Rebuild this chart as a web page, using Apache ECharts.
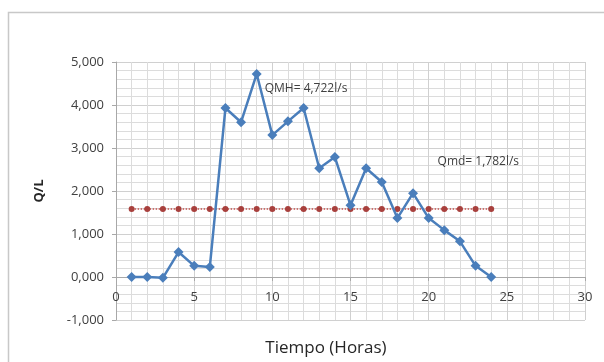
<!DOCTYPE html>
<html><head><meta charset="utf-8">
<script src="https://cdn.jsdelivr.net/npm/echarts@6/dist/echarts.min.js"></script>
<style>html,body{margin:0;padding:0;background:#fff}#c{width:604px;height:362px}</style>
</head><body><div id="c"></div>
<script>
const hours = [1,2,3,4,5,6,7,8,9,10,11,12,13,14,15,16,17,18,19,20,21,22,23,24];
const caudal = [0,0,-20,580,260,230,3930,3600,4722,3300,3620,3930,2530,2790,1670,2530,2210,1370,1950,1370,1090,830,260,0];
const qmdLine = [1580,1580,1580,1580,1580,1580,1580,1580,1580,1580,1580,1580,1580,1580,1580,1580,1580,1580,1580,1580,1580,1580,1580,1580];
const yTicks = [-1000,0,1000,2000,3000,4000,5000];
const xTicks = [0,5,10,15,20,25,30];
const peakLabel = 'QMH= 4,722l/s';
const meanLabel = 'Qmd= 1,782l/s';
const xName = 'Tiempo (Horas)';
const yName = 'Q/L';

const FONT = 'Open Sans';
const GRID = {left:116,right:19,top:62,bottom:42};
const plotH = 362 - GRID.top - GRID.bottom;
const yMin = yTicks[0], yMax = yTicks[yTicks.length-1];
const zeroOffset = -plotH * (0 - yMin) / (yMax - yMin);
const chart = echarts.init(document.getElementById('c'), null, {renderer:'canvas'});
const peakIdx = caudal.indexOf(Math.max(...caudal));
chart.setOption({
  animation:false,
  backgroundColor:'#fff',
  grid:GRID,
  graphic:[
    {type:'rect',shape:{x:8.5,y:12.5,width:700,height:400},style:{fill:'none',stroke:'#c8c8c8',lineWidth:1.5},z:-1},
    {type:'text',x:326,y:348,style:{text:xName,font:'17px "Open Sans"',fill:'#262626',textAlign:'center',textVerticalAlign:'middle'}}
  ],
  xAxis:{type:'value',min:xTicks[0],max:xTicks[xTicks.length-1],interval:5,
    offset:zeroOffset,
    axisLine:{onZero:false,lineStyle:{color:'#a8a8a8'}},
    axisTick:{show:true,length:4,lineStyle:{color:'#a8a8a8'}},
    axisLabel:{color:'#404040',fontFamily:FONT,fontSize:13,margin:14},
    splitLine:{show:true,lineStyle:{color:'#d0d0d0'}},
    minorTick:{show:false,splitNumber:5},
    minorSplitLine:{show:true,lineStyle:{color:'#dcdcdc'}}
  },
  yAxis:{type:'value',min:yMin,max:yMax,interval:1000,
    name:yName,nameLocation:'middle',nameGap:70,
    nameTextStyle:{color:'#262626',fontFamily:FONT,fontSize:13,fontWeight:'bold'},
    axisLine:{show:true,lineStyle:{color:'#a8a8a8'}},
    axisTick:{show:true,length:4,lineStyle:{color:'#a8a8a8'}},
    axisLabel:{color:'#404040',fontFamily:FONT,fontSize:13,margin:12,
      formatter:v=> v===0?'0,000':v.toLocaleString('en-US')},
    splitLine:{show:true,lineStyle:{color:'#d0d0d0'}},
    minorTick:{show:false,splitNumber:5},
    minorSplitLine:{show:true,lineStyle:{color:'#dcdcdc'}}
  },
  series:[
    {type:'line',data:hours.map((h,i)=>[h,qmdLine[i]]),
      symbol:'circle',symbolSize:6,
      lineStyle:{color:'#c0504d',width:1.5,type:'dotted'},
      itemStyle:{color:'#a8403d'},
      label:{show:false},
      z:2},
    {type:'line',data:hours.map((h,i)=>{
        const d={value:[h,caudal[i]]};
        if(i===peakIdx) d.label={show:true,position:'right',distance:3,offset:[0,15],formatter:peakLabel,color:'#404040',fontFamily:FONT,fontSize:12};
        if(i===20) d.label={show:true,position:'top',formatter:meanLabel,offset:[34,-53],color:'#404040',fontFamily:FONT,fontSize:12};
        return d;}),
      symbol:'diamond',symbolSize:10,
      lineStyle:{color:'#4a7ebb',width:2.5},
      itemStyle:{color:'#4a7ebb'},
      z:3}
  ]
});
</script></body></html>
